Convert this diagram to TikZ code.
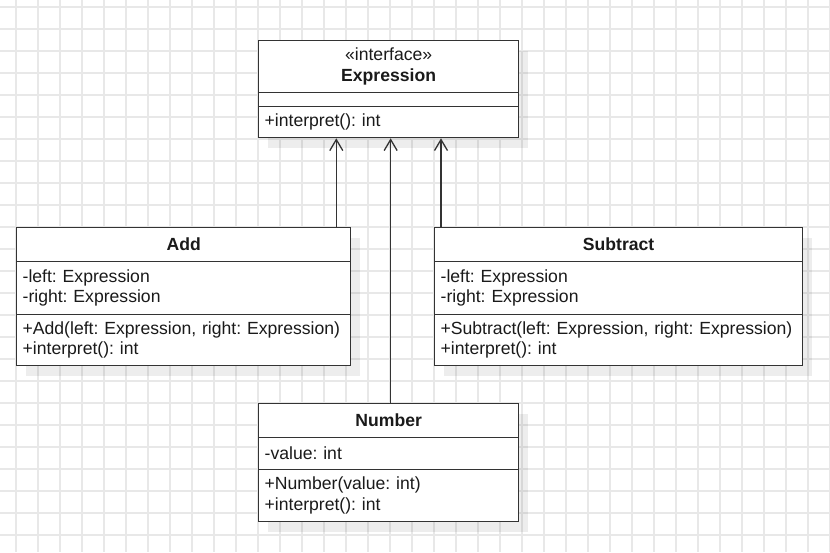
\documentclass[tikz,border=0pt]{standalone}
\usepackage{fontspec}
\setmainfont{Liberation Sans}
\usetikzlibrary{arrows.meta, shadows}
\definecolor{umlline}{HTML}{333333}
\definecolor{umltext}{HTML}{1A1A1A}
\definecolor{gridgray}{HTML}{E8E8E8}
\frenchspacing

\tikzset{
  gridline/.style={draw=gridgray, line width=1.2pt},
  umlbox/.style={draw=umlline, fill=white, line width=1.3pt, anchor=north west,
    inner sep=0pt, text=umltext, font=\fontsize{17.6}{20.5}\selectfont,
    general shadow={fill=black, opacity=0.07, shadow xshift=9pt, shadow yshift=-10pt}},
  titlebox/.style={umlbox, align=center},
  partbox/.style={umlbox, align=left, inner xsep=6pt, text width=#1},
  implements/.style={draw=umlline, line width=1.3pt, -{Straight Barb[length=11pt, width=13pt]}}
}

\begin{document}
\begin{tikzpicture}[x=1pt, y=-1pt]
    % Background
    \useasboundingbox (0,0) rectangle (830,552);
    \fill[white] (0,0) rectangle (830,552);

    \foreach \gx in {16,38,...,830}
      \draw[gridline] (\gx,0) -- (\gx,552);
    \foreach \gy in {7,29,...,552}
      \draw[gridline] (0,\gy) -- (830,\gy);

    % Expression
    \node[titlebox, minimum width=260, minimum height=52] (exprTitle) at (258,40) {«interface»\\\textbf{Expression}};
    \node[partbox=248, minimum height=14] (exprAttr) at (258,92) {};
    \node[partbox=248, minimum height=31] (exprMeth) at (258,106) {+interpret(): int};

    % Add
    \node[titlebox, minimum width=334, minimum height=34] (addTitle) at (16,227) {\textbf{Add}};
    \node[partbox=322, minimum height=53] (addAttr) at (16,261) {-left: Expression\\-right: Expression};
    \node[partbox=322, minimum height=51] (addMeth) at (16,314) {+Add(left: Expression, right: Expression)\\+interpret(): int};

    % Subtract
    \node[titlebox, minimum width=368, minimum height=34] (subTitle) at (434,227) {\textbf{Subtract}};
    \node[partbox=356, minimum height=53] (subAttr) at (434,261) {-left: Expression\\-right: Expression};
    \node[partbox=356, minimum height=51] (subMeth) at (434,314) {+Subtract(left: Expression, right: Expression)\\+interpret(): int};

    % Number
    \node[titlebox, minimum width=260, minimum height=34] (numTitle) at (258,403) {\textbf{Number}};
    \node[partbox=248, minimum height=32] (numAttr) at (258,437) {-value: int};
    \node[partbox=248, minimum height=52] (numMeth) at (258,469) {+Number(value: int)\\+interpret(): int};

    % Realizations
    \coordinate (addTop) at ([xshift=-15pt]addTitle.north east);
    \coordinate (numTop) at ([xshift=2pt]numTitle.north);
    \coordinate (subTop) at ([xshift=7pt]subTitle.north west);
    \draw[implements] (addTop) -- (addTop |- exprMeth.south);
    \draw[implements] (numTop) -- (numTop |- exprMeth.south);
    \draw[implements] (subTop) -- (subTop |- exprMeth.south);

  \end{tikzpicture}
\end{document}
